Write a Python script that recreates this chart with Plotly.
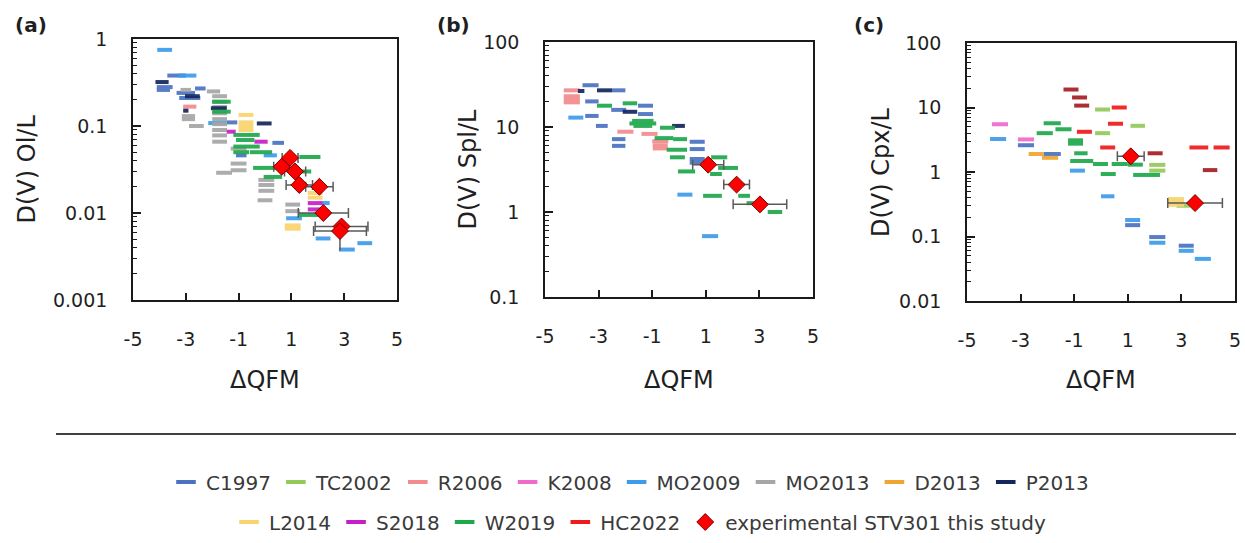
import plotly.graph_objects as go

# ---------------- data ----------------
SERIES = ["C1997", "TC2002", "R2006", "K2008", "MO2009", "MO2013", "D2013", "P2013",
          "L2014", "S2018", "W2019", "HC2022"]
COLORS = {"C1997": "#4A72C0", "TC2002": "#92C95A", "R2006": "#F28A8E", "K2008": "#F06AC8",
          "MO2009": "#3D9BEA", "MO2013": "#A6A6A6", "D2013": "#EFA531", "P2013": "#13275C",
          "L2014": "#F9D46E", "S2018": "#C81EC8", "W2019": "#1DA84C", "HC2022": "#F01A1A",
          "HC2022b": "#A31F22"}

# panel (a): D(V) Ol/L  -- series, dQFM centre, D value, dQFM half-range
a_series = (["MO2009"] * 9 + ["C1997"] * 9 + ["P2013"] * 5 + ["R2006"] +
            ["MO2013"] * 24 + ["L2014"] * 8 + ["S2018"] * 4 + ["W2019"] * 12)
a_x = [-3.8, -2.95, -1.8, 0.2, 1.1, 2.3, 2.2, 3.78, 3.1,
       -3.35, -3.8, -3.85, -3.0, -2.85, -2.45, -1.25, 0.5, -0.9,
       -3.9, -2.75, -3.0, -1.75, -0.03,
       -2.85,
       -3.0, -1.95, -2.9, -2.9, -2.6, -1.72, -1.72, -1.72, -1.72, -1.72, -1.72, -1.72, -1.72, -1.72,
       -1.0, -1.0, -1.55, -1.0, 0.05, 0.05, 0.05, 0.0, 1.05, 1.05, 1.05, 1.05,
       -0.72, -0.72, -0.72, -0.72, 1.9, 1.9, 1.9, 1.9,
       -1.28, -0.15, -0.15, 1.7,
       -1.65, -1.65, -0.7, -0.75, -0.7, -0.9, 1.7, 0.0, 1.55, 0.3, 2.4, 3.45]
a_y = [0.75, 0.38, 0.108, 0.046, 0.0087, 0.013, 0.0051, 0.0045, 0.0038,
       0.38, 0.28, 0.26, 0.24, 0.21, 0.27, 0.11, 0.064, 0.046,
       0.32, 0.22, 0.15, 0.16, 0.107,
       0.167,
       0.26, 0.25, 0.13, 0.12, 0.10, 0.22, 0.19, 0.165, 0.14, 0.12, 0.105, 0.09, 0.078, 0.066,
       0.055, 0.037, 0.029, 0.031, 0.024, 0.021, 0.018, 0.014, 0.0125, 0.0105, 0.0072, 0.0066,
       0.134, 0.11, 0.10, 0.09, 0.017, 0.015, 0.013, 0.011,
       0.086, 0.066, 0.05, 0.0095,
       0.19, 0.146, 0.079, 0.069, 0.058, 0.05, 0.044, 0.033, 0.03, 0.026, 0.0075, 0.0049]
a_dx = [0.28, 0.35, 0.35, 0.25, 0.3, 0.15, 0.28, 0.28, 0.3,
        0.35, 0.3, 0.25, 0.35, 0.4, 0.2, 0.2, 0.22, 0.2,
        0.25, 0.28, 0.1, 0.3, 0.28,
        0.25,
        0.2, 0.25, 0.25, 0.25, 0.28, 0.28, 0.28, 0.28, 0.28, 0.28, 0.28, 0.28, 0.28, 0.28,
        0.3, 0.3, 0.3, 0.3, 0.3, 0.3, 0.3, 0.28, 0.28, 0.28, 0.3, 0.3,
        0.28, 0.28, 0.28, 0.28, 0.28, 0.28, 0.28, 0.28,
        0.17, 0.25, 0.42, 0.42,
        0.35, 0.35, 0.5, 0.35, 0.5, 0.3, 0.4, 0.45, 0.2, 0.35, 0.55, 0.45]

# panel (b): D(V) Spl/L
b_series = (["R2006"] * 9 + ["P2013"] * 4 + ["C1997"] * 14 + ["MO2009"] * 3 + ["W2019"] * 18)
b_x = [-4.0, -4.0, -4.0, -4.0, -2.0, -1.1, -0.7, -0.7, -0.7,
       -3.65, -2.78, -1.83, -0.02,
       -3.3, -2.25, -3.25, -2.25, -1.25, -1.25, -3.25, -2.88, -2.25, -2.25, 0.68, 0.68, 0.68, 0.68,
       -3.85, 0.22, 1.16,
       -2.78, -1.83, -1.35, -1.35, -1.35, -0.43, -0.56, 0.04, -0.08, -0.06, 1.5, 1.83, 0.28, 1.38,
       1.25, 2.43, 2.8, 3.58]
b_y = [27, 23, 21, 19.5, 8.8, 8.3, 6.8, 6.1, 5.6,
       26.5, 27, 15.1, 10.3,
       31, 27, 20, 15.9, 17.8, 14.2, 13.5, 10.3, 7.2, 6.0, 6.7, 5.5, 4.2, 3.8,
       12.9, 1.6, 0.52,
       17.8, 19, 11.8, 11.0, 10.3, 9.8, 7.4, 7.2, 5.4, 4.4, 4.4, 3.3, 3.0, 2.8,
       1.55, 1.55, 1.27, 1.0]
b_dx = [0.3, 0.3, 0.3, 0.3, 0.3, 0.3, 0.3, 0.28, 0.28,
        0.12, 0.28, 0.27, 0.24,
        0.3, 0.25, 0.25, 0.28, 0.28, 0.28, 0.25, 0.22, 0.25, 0.25, 0.28, 0.28, 0.28, 0.28,
        0.28, 0.28, 0.3,
        0.28, 0.27, 0.4, 0.5, 0.35, 0.28, 0.35, 0.26, 0.38, 0.28, 0.3, 0.37, 0.32, 0.22,
        0.35, 0.22, 0.28, 0.27]

# panel (c): D(V) Cpx/L
c_series = (["K2008"] * 2 + ["MO2009"] * 7 + ["C1997"] * 5 + ["D2013"] * 2 + ["W2019"] * 12 +
            ["TC2002"] * 6 + ["HC2022"] * 6 + ["HC2022b"] * 5 + ["L2014"] * 3)
c_x = [-3.77, -2.8,
       -3.84, -0.88, 0.25, 1.18, 2.1, 3.18, 3.8,
       -2.8, -1.82, 1.18, 2.1, 3.18,
       -2.42, -1.9,
       -2.1, -1.82, -1.4, -0.95, -0.95, -0.75, -0.72, -0.02, 0.7, 1.28, 0.27, 1.7,
       0.06, 1.37, 0.06, 2.1, 2.1, 3.07,
       0.68, 0.54, -0.62, 0.25, 3.65, 4.5,
       -1.12, -0.8, -0.72, 2.02, 4.07,
       2.8, 2.8, 2.8]
c_y = [5.5, 3.2,
       3.25, 1.05, 0.42, 0.18, 0.08, 0.06, 0.045,
       2.6, 1.9, 0.15, 0.098, 0.072,
       1.9, 1.66,
       4.0, 5.7, 4.6, 3.1, 2.75, 1.95, 1.48, 1.33, 1.33, 1.3, 0.93, 0.9,
       9.3, 5.2, 4.0, 1.29, 1.05, 0.3,
       10.0, 5.6, 4.2, 2.4, 2.4, 2.4,
       19.0, 14.3, 10.7, 1.95, 1.07,
       0.38, 0.34, 0.31]
c_dx = [0.3, 0.3,
        0.3, 0.28, 0.25, 0.28, 0.3, 0.28, 0.3,
        0.3, 0.32, 0.28, 0.3, 0.28,
        0.28, 0.3,
        0.3, 0.32, 0.3, 0.28, 0.28, 0.25, 0.43, 0.28, 0.3, 0.28, 0.28, 0.5,
        0.28, 0.27, 0.28, 0.3, 0.3, 0.25,
        0.28, 0.28, 0.28, 0.28, 0.35, 0.3,
        0.28, 0.28, 0.28, 0.28, 0.27,
        0.3, 0.3, 0.3]

# experimental STV301 (this study)
exp_a_x = [0.95, 0.63, 1.14, 1.3, 2.06, 2.21, 2.9, 2.84]
exp_a_y = [0.043, 0.034, 0.030, 0.021, 0.020, 0.010, 0.0070, 0.0062]
exp_a_dx = [0.3, 0.3, 0.4, 0.5, 0.52, 0.95, 1.0, 1.0]
exp_a_dy = [0, 0, 0, 0, 0, 0, 0, 0.0025]
exp_b_x = [1.09, 2.15, 3.02]
exp_b_y = [3.6, 2.1, 1.23]
exp_b_dx = [0.58, 0.48, 1.0]
exp_c_x = [1.11, 3.51]
exp_c_y = [1.75, 0.33]
exp_c_dx = [0.5, 1.02]

x_ticks = [-5, -3, -1, 1, 3, 5]

# ---------------- figure ----------------
W, H = 1245, 543
FONT = "DejaVu Sans"
TXT = "#1f1f1f"

fig = go.Figure()

panels = [
    (a_series, a_x, a_y, a_dx, "x", "y"),
    (b_series, b_x, b_y, b_dx, "x2", "y2"),
    (c_series, c_x, c_y, c_dx, "x3", "y3"),
]

for ser, xs, ys, dxs, xa, ya in panels:
    for s in SERIES + ["HC2022b"]:
        idx = [i for i, v in enumerate(ser) if v == s]
        if not idx:
            continue
        col = COLORS[s]
        fig.add_trace(go.Scatter(
            x=[xs[i] for i in idx], y=[ys[i] for i in idx],
            mode="markers",
            marker=dict(size=2, color=col),
            error_x=dict(type="data", array=[dxs[i] for i in idx], width=0,
                         thickness=4, color=col),
            xaxis=xa, yaxis=ya, showlegend=False, hoverinfo="skip",
            opacity=0.92,
        ))

# legend-only entries
for k, s in enumerate(SERIES):
    fig.add_trace(go.Scatter(
        x=[None], y=[None], mode="markers", name=s,
        marker=dict(symbol="line-ew", size=14, color=COLORS[s],
                    line=dict(width=4, color=COLORS[s])),
        legend="legend" if k < 8 else "legend2",
    ))

exp_style = dict(mode="markers",
                 marker=dict(symbol="diamond", size=13, color="#FF0000",
                             line=dict(width=1, color="#7A0000")))
errc = "#5A5A5A"
fig.add_trace(go.Scatter(x=exp_a_x, y=exp_a_y, xaxis="x", yaxis="y",
                         error_x=dict(type="data", array=exp_a_dx, width=5, thickness=1.5, color=errc),
                         error_y=dict(type="data", symmetric=False, array=[0] * len(exp_a_dy),
                                      arrayminus=exp_a_dy, width=0, thickness=1.5, color=errc),
                         name="experimental STV301 this study", legend="legend2",
                         **exp_style))
fig.add_trace(go.Scatter(x=exp_b_x, y=exp_b_y, xaxis="x2", yaxis="y2", showlegend=False,
                         error_x=dict(type="data", array=exp_b_dx, width=5, thickness=1.5, color=errc),
                         **exp_style))
fig.add_trace(go.Scatter(x=exp_c_x, y=exp_c_y, xaxis="x3", yaxis="y3", showlegend=False,
                         error_x=dict(type="data", array=exp_c_dx, width=5, thickness=1.5, color=errc),
                         **exp_style))


def minor_vals(lo, hi):
    out = []
    for e in range(lo, hi):
        for m in range(2, 10):
            out.append(m * 10 ** e)
    return out


def fx(p):
    return p / W


def fy(p):
    return 1 - p / H


boxes = [  # left, right, top, bottom (px)
    (133, 397, 39, 300),
    (545, 813, 42, 297),
    (967, 1235, 43, 301),
]
yranges = [(-3, 0), (-1, 2), (-2, 2)]
ytitles = ["D(V) Ol/L", "D(V) Spl/L", "D(V) Cpx/L"]
labels = ["(a)", "(b)", "(c)"]
label_x = [31, 453, 869]
ytitle_x = [26, 467, 881]

axis_line = dict(showline=True, linecolor="#1a1a1a", linewidth=1.6, mirror=True,
                 showgrid=False, zeroline=False)
tickfont = dict(family=FONT, size=19, color=TXT)

for k, (l, r, t, b) in enumerate(boxes):
    sfx = "" if k == 0 else str(k + 1)
    lo, hi = yranges[k]
    fig.layout["xaxis" + sfx] = dict(
        domain=[fx(l), fx(r)], anchor="y" + sfx, range=[-5, 5],
        tickvals=x_ticks, ticktext=[str(v) for v in x_ticks],
        ticks="inside", ticklen=7, tickwidth=1.6, tickcolor="#1a1a1a",
        tickfont=tickfont, ticklabelstandoff=21, **axis_line)
    fig.layout["yaxis" + sfx] = dict(
        domain=[fy(b), fy(t)], anchor="x" + sfx, type="log", range=[lo, hi],
        tickvals=[10 ** e for e in range(lo, hi + 1)],
        ticktext=[("%g" % (10 ** e)) for e in range(lo, hi + 1)],
        ticks="inside", ticklen=8, tickwidth=1.6, tickcolor="#1a1a1a",
        minor=dict(ticks="inside", ticklen=4, tickwidth=1.2, tickcolor="#1a1a1a",
                   tickmode="array", tickvals=minor_vals(lo, hi), showgrid=False),
        tickfont=tickfont, ticklabelstandoff=20, **axis_line)
    # axis titles
    fig.add_annotation(text="ΔQFM", xref="paper", yref="paper",
                       x=fx((l + r) / 2), y=fy(380), xanchor="center", yanchor="middle",
                       showarrow=False, font=dict(family=FONT, size=24, color=TXT))
    fig.add_annotation(text=ytitles[k], xref="paper", yref="paper", textangle=-90,
                       x=fx(ytitle_x[k]), y=fy((t + b) / 2), xanchor="center", yanchor="middle",
                       showarrow=False, font=dict(family=FONT, size=24, color=TXT))
    fig.add_annotation(text="<b>" + labels[k] + "</b>", xref="paper", yref="paper",
                       x=fx(label_x[k]), y=fy(25), xanchor="center", yanchor="middle",
                       showarrow=False, font=dict(family=FONT, size=20, color=TXT))

fig.add_shape(type="line", xref="paper", yref="paper",
              x0=fx(56), x1=fx(1236), y0=fy(434), y1=fy(434),
              line=dict(color="#404040", width=2))

leg_common = dict(orientation="h", xanchor="center", yanchor="middle",
                  font=dict(family=FONT, size=20, color="#3a3a3a"),
                  bgcolor="rgba(0,0,0,0)", itemwidth=30, tracegroupgap=0)
fig.update_layout(
    width=W, height=H,
    margin=dict(l=0, r=0, t=0, b=0, pad=0, autoexpand=False),
    paper_bgcolor="white", plot_bgcolor="white",
    font=dict(family=FONT, color=TXT),
    legend=dict(x=fx(630), y=fy(482), **leg_common),
    legend2=dict(x=fx(640), y=fy(522), **leg_common),
)

fig.write_html("out.html", config={"displayModeBar": False},
               post_script="document.body.style.margin='0px';"
                           "document.body.style.overflow='hidden';")
